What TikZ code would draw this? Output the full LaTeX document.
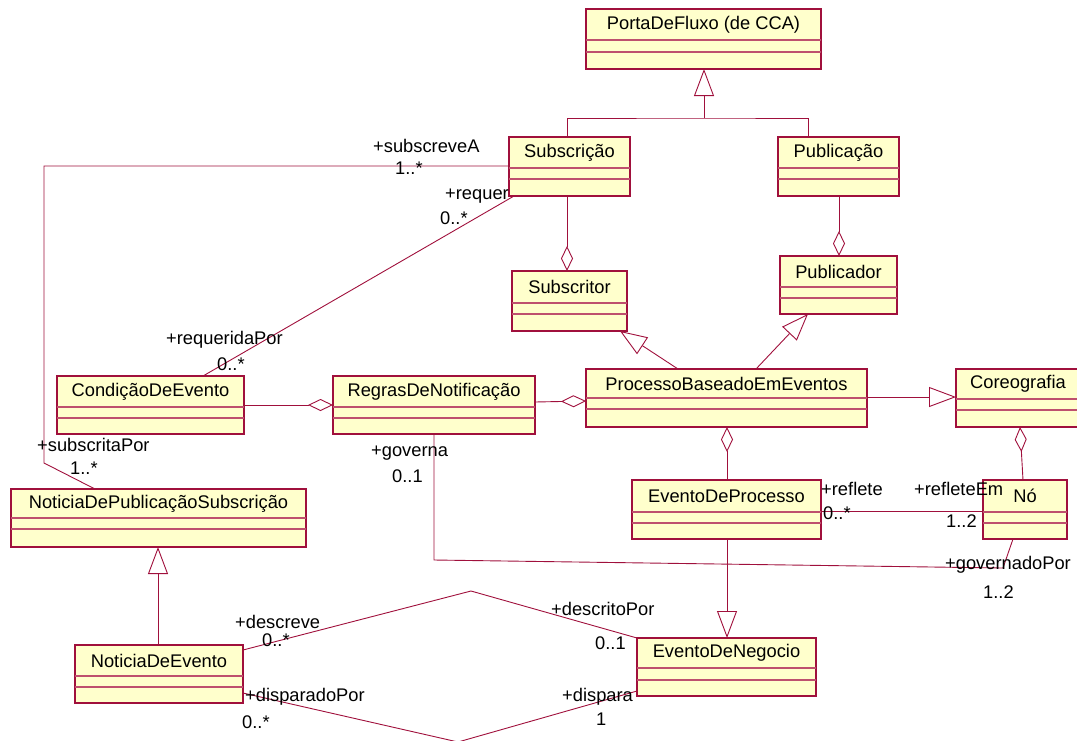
\documentclass[tikz,border=0pt]{standalone}
\usepackage{fontspec}
\setmainfont{Liberation Sans}
\usetikzlibrary{arrows.meta}
\definecolor{umlline}{RGB}{160,16,60}
\definecolor{umlfill}{RGB}{255,255,204}
\definecolor{umldiv}{RGB}{190,80,110}

% class box: name, left, top, right, bottom, divider 1, divider 2, title
\newcommand{\umlclass}[8]{%
  \pgfmathsetmacro{\umlW}{#4-#2}%
  \pgfmathsetmacro{\umlH}{#5-#3}%
  \node[classbox, minimum width=\umlW pt, minimum height=\umlH pt] (#1) at ({(#2+#4)/2},{(#3+#5)/2}) {};
  \draw[divline] (#1.west |- 0,#6) -- (#1.east |- 0,#6) (#1.west |- 0,#7) -- (#1.east |- 0,#7);
  \node[classname] (#1-title) at ({(#2+#4)/2},{(#3+#6)/2}) {#8};
}

\begin{document}
\begin{tikzpicture}[x=1pt,y=-1pt,
  classbox/.style={draw=umlline, fill=umlfill, line width=1.3pt, inner sep=0pt, outer sep=0pt},
  divline/.style={draw=umldiv, line width=1.1pt},
  classname/.style={font=\fontsize{18.3}{20}\selectfont, text=black, inner sep=0pt},
  role/.style={font=\fontsize{18.3}{20}\selectfont, text=black, inner sep=0pt, anchor=west},
  conn/.style={draw=umlline, line width=0.9pt},
  gentip/.style={-{Triangle[open,fill=white,length=27pt,width=20pt]}},
  aggtip/.style={-{Diamond[open,fill=white,length=25pt,width=12pt]}}]
\useasboundingbox (0,0) rectangle (1077,740);
\clip (0,0) rectangle (1077,740);

% classes
\umlclass{porta}{586}{9}{821}{69}{40}{52}{PortaDeFluxo (de CCA)}
\umlclass{sub}{509}{137}{630}{196}{168}{179}{Subscrição}
\umlclass{pub}{778}{137}{899}{196}{168}{179}{Publicação}
\umlclass{subr}{512}{271}{627}{331}{303}{314}{Subscritor}
\umlclass{publ}{780}{256}{897}{314}{287}{298}{Publicador}
\umlclass{cond}{57}{376}{244}{434}{407}{418}{CondiçãoDeEvento}
\umlclass{regras}{333}{376}{535}{434}{407}{418}{RegrasDeNotificação}
\umlclass{proc}{586}{369}{867}{427}{398}{409}{ProcessoBaseadoEmEventos}
\umlclass{coreo}{956}{369}{1080}{427}{399}{410}{Coreografia}
\umlclass{evproc}{632}{480}{821}{539}{512}{523}{EventoDeProcesso}
\umlclass{no}{983}{480}{1067}{539}{512}{523}{Nó}
\umlclass{notpub}{11}{489}{306}{547}{518}{529}{NoticiaDePublicaçãoSubscrição}
\umlclass{notev}{75}{645}{243}{703}{676}{687}{NoticiaDeEvento}
\umlclass{evneg}{637}{638}{816}{696}{668}{680}{EventoDeNegocio}

% associations
\draw[conn] (514,0 |- sub.south) -- (203,0 |- cond.north);
\draw[conn] (sub.west |- 0,166) -- (44,166) -- (44,463) -- (95,0 |- notpub.north);
\draw[conn] (evproc.east |- 0,511) -- (no.west |- 0,511);
\draw[conn] (434,0 |- regras.south) -- (434,560) -- (1003,568) -- (1013,0 |- no.south);
\draw[conn] (notev.east |- 0,650) -- (471,591) -- (evneg.north west);
\draw[conn] (notev.east |- 0,693) -- (458,742) -- (evneg.west |- 0,691);

% generalizations
\coordinate (gj) at (704,118);
\draw[conn] (567,0 |- sub.north) |- (gj) -| (808,0 |- pub.north);
\draw[conn,gentip] (gj) -- (gj |- porta.south);
\draw[conn,gentip] (678,0 |- proc.north) -- (620,0 |- subr.south);
\draw[conn,gentip] (756,0 |- proc.north) -- (808,0 |- publ.south);
\draw[conn,gentip] (proc.east |- 0,397) -- (coreo.west |- 0,397);
\draw[conn,gentip] (727,0 |- evproc.south) -- (727,0 |- evneg.north);
\draw[conn,gentip] (158,0 |- notev.north) -- (158,0 |- notpub.south);

% aggregations
\draw[conn,aggtip] (567,0 |- sub.south) -- (567,0 |- subr.north);
\draw[conn,aggtip] (839,0 |- pub.south) -- (839,0 |- publ.north);
\draw[conn,aggtip] (regras.east |- 0,402) -- (proc.west |- 0,401);
\draw[conn,aggtip] (cond.east |- 0,405) -- (regras.west |- 0,405);
\draw[conn,aggtip] (727,0 |- evproc.north) -- (727,0 |- proc.south);
\draw[conn,aggtip] (1023,0 |- no.north) -- (1020,0 |- coreo.south);

% role names and multiplicities
\node[role] (r1) at (373,146) {+subscreveA};
\node[role] (m1) at (395,168) {1..*};
\node[role] (r2) at (445,196) {+requer};
\node[role] (m2) at (440,218) {0..*};
\node[role] (r3) at (166,340) {+requeridaPor};
\node[role] (m3) at (217,364) {0..*};
\node[role] (r4) at (37,445) {+subscritaPor};
\node[role] (m4) at (70,468) {1..*};
\node[role] (r5) at (371,453) {+governa};
\node[role] (m5) at (392,476) {0..1};
\node[role] (r6) at (821,489) {+reflete};
\node[role] (m6) at (823,513) {0..*};
\node[role] (r7) at (914,489) {+refleteEm};
\node[role] (m7) at (946,521) {1..2};
\node[role] (r8) at (945,565) {+governadoPor};
\node[role] (m8) at (983,592) {1..2};
\node[role] (r9) at (235,622) {+descreve};
\node[role] (m9) at (262,640) {0..*};
\node[role] (r10) at (551,609) {+descritoPor};
\node[role] (m10) at (595,643) {0..1};
\node[role] (r11) at (245,697) {+disparadoPor};
\node[role] (m11) at (242,722) {0..*};
\node[role] (r12) at (562,697) {+dispara};
\node[role] (m12) at (596,719) {1};
\end{tikzpicture}
\end{document}
